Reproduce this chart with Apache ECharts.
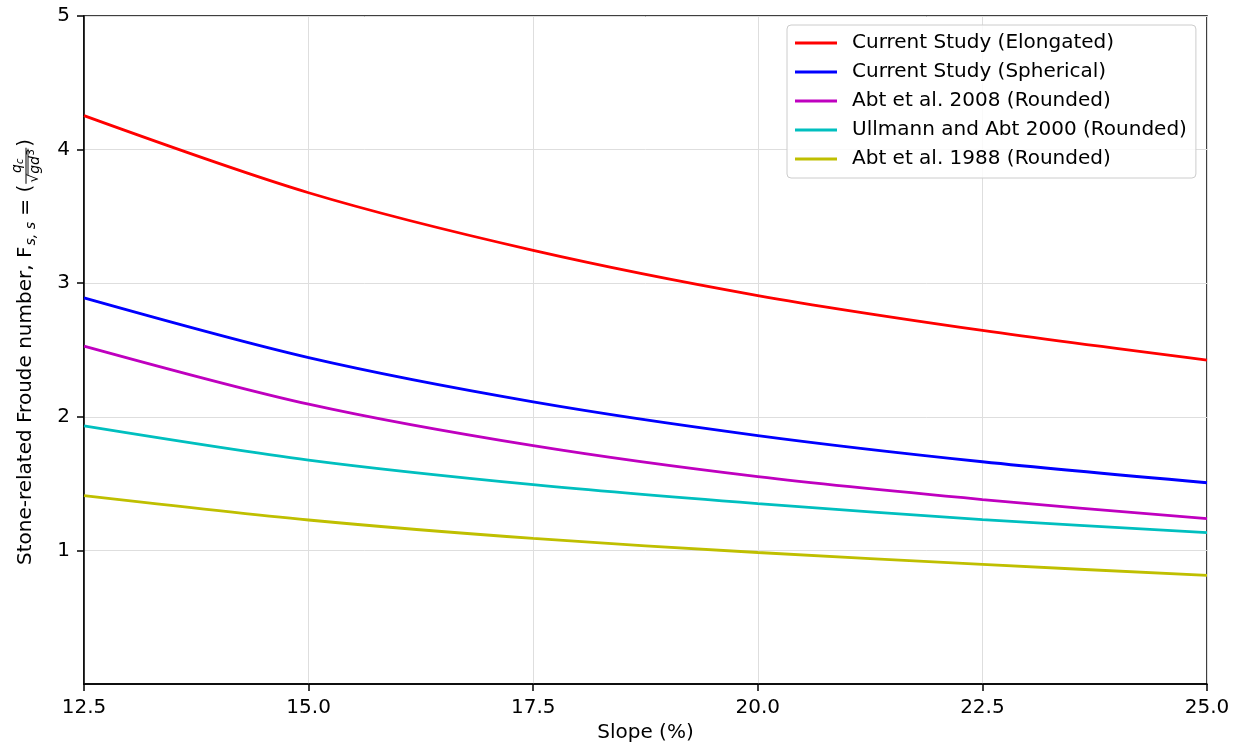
<!DOCTYPE html>
<html><head><meta charset="utf-8">
<script src="https://cdn.jsdelivr.net/npm/echarts@6/dist/echarts.min.js"></script>
<style>html,body{margin:0;padding:0;background:#fff}#c{width:1239px;height:748px}</style>
</head><body><div id="c"></div>
<script>
const slopes = [12.5, 15, 17.5, 20, 22.5, 25];
const elongated = [4.254, 3.677, 3.246, 2.908, 2.647, 2.425];
const spherical = [2.890, 2.443, 2.112, 1.860, 1.664, 1.507];
const abt2008 = [2.530, 2.095, 1.784, 1.552, 1.381, 1.239];
const ullmann2000 = [1.933, 1.677, 1.493, 1.351, 1.231, 1.134];
const abt1988 = [1.410, 1.228, 1.090, 0.985, 0.896, 0.813];
const seriesNames = ['Current Study (Elongated)', 'Current Study (Spherical)', 'Abt et al. 2008 (Rounded)', 'Ullmann and Abt 2000 (Rounded)', 'Abt et al. 1988 (Rounded)'];
const seriesValues = [elongated, spherical, abt2008, ullmann2000, abt1988];
const seriesColors = ['#ff0000', '#0000ff', '#bf00bf', '#00bfbf', '#bfbf00'];
const xTicks = [12.5, 15, 17.5, 20, 22.5, 25];
const yTicks = [1, 2, 3, 4, 5];
const xLabel = 'Slope (%)';

const FF = '"DejaVu Sans", sans-serif';
const ctx = document.createElement('canvas').getContext('2d');
function tw(t, f) { ctx.font = f; return ctx.measureText(t).width; }
const F20 = '20px ' + FF, I14 = 'italic 14px ' + FF, N14 = '14px ' + FF, I10 = 'italic 10px ' + FF, N10 = '10px ' + FF;

const mainA = 'Stone-related Froude number, F';
const subS = 's, s';
const mainB = ' = (';
const wA = tw(mainA, F20), wS = tw(subS, I14), wB = tw(mainB, F20);
const fx = wA + 1 + wS + wB + 1;
const wq = tw('q', I14), wc = tw('c', I10);
const wsq = tw('\u221A', N14), wgd = tw('gd', I14), w3 = tw('3', N10);
const numW = wq + wc, denW = wsq + wgd + w3 + 1;
const fracW = Math.max(numW, denW) + 2;
const numX = fx + (fracW - numW) / 2;
const denX = fx + (fracW - denW) / 2;

function T(text, x, y, font, align) {
  return { type: 'text', x: x, y: y, style: { text: text, font: font, fill: '#000', textAlign: align || 'left', textVerticalAlign: 'middle' } };
}
const yLabelChildren = [
  T(mainA, 0, 0, F20),
  T(subS, wA + 1, 5, I14),
  T(mainB, wA + 1 + wS, 0, F20),
  T('q', numX, -9, I14),
  T('c', numX + wq, -6, I10),
  { type: 'line', shape: { x1: fx, y1: 0, x2: fx + fracW, y2: 0 }, style: { stroke: '#000', lineWidth: 1 } },
  T('\u221A', denX, 8, N14),
  { type: 'line', shape: { x1: denX + wsq - 1, y1: 2, x2: denX + denW, y2: 2 }, style: { stroke: '#000', lineWidth: 0.9 } },
  T('gd', denX + wsq, 9, I14),
  T('3', denX + wsq + wgd + 0.5, 5, N10),
  T(')', fx + fracW + 1, 0, F20)
];

const chart = echarts.init(document.getElementById('c'), null, { renderer: 'canvas' });
chart.setOption({
  animation: false,
  backgroundColor: '#ffffff',
  grid: { left: 84, right: 32, top: 16, bottom: 62, show: true, borderColor: '#000', borderWidth: 1.5, backgroundColor: 'transparent' },
  xAxis: {
    type: 'value', min: 12.5, max: 25, interval: 2.5,
    name: xLabel, nameLocation: 'middle', nameGap: 38,
    nameTextStyle: { fontFamily: FF, fontSize: 20, color: '#000' },
    axisLine: { show: true, lineStyle: { color: '#000', width: 1.5 } },
    axisTick: { show: true, inside: false, length: 7, lineStyle: { color: '#000', width: 1.5 } },
    axisLabel: { margin: 14, fontFamily: FF, fontSize: 20, color: '#000', formatter: v => v.toFixed(1) },
    splitLine: { show: true, lineStyle: { color: '#dedede', width: 1 } }
  },
  yAxis: {
    type: 'value', min: 0, max: 5, interval: 1,
    axisLine: { show: true, lineStyle: { color: '#000', width: 1.5 } },
    axisTick: { show: true, inside: false, length: 7, lineStyle: { color: '#000', width: 1.5 }, customValues: yTicks },
    axisLabel: { margin: 14, fontFamily: FF, fontSize: 20, color: '#000', customValues: yTicks, formatter: v => String(v) },
    splitLine: { show: true, lineStyle: { color: '#dedede', width: 1 } }
  },
  legend: {
    orient: 'vertical', left: 787, top: 25,
    icon: 'rect', itemWidth: 42, itemHeight: 3, itemGap: 5,
    padding: [6, 9, 7, 8],
    backgroundColor: 'rgba(255,255,255,0.85)', borderColor: '#cccccc', borderWidth: 1, borderRadius: 4,
    textStyle: { fontFamily: FF, fontSize: 20, color: '#000', padding: [0, 0, 0, 10], lineHeight: 24 },
    data: seriesNames
  },
  series: seriesNames.map((n, k) => ({
    name: n, type: 'line', symbol: 'none', smooth: 0.3,
    data: slopes.map((s, i) => [s, seriesValues[k][i]]),
    lineStyle: { color: seriesColors[k], width: 2.8 },
    itemStyle: { color: seriesColors[k] },
    z: 3
  })),
  graphic: [{ type: 'group', x: 26, y: 565, rotation: Math.PI / 2, children: yLabelChildren }]
});
</script></body></html>
